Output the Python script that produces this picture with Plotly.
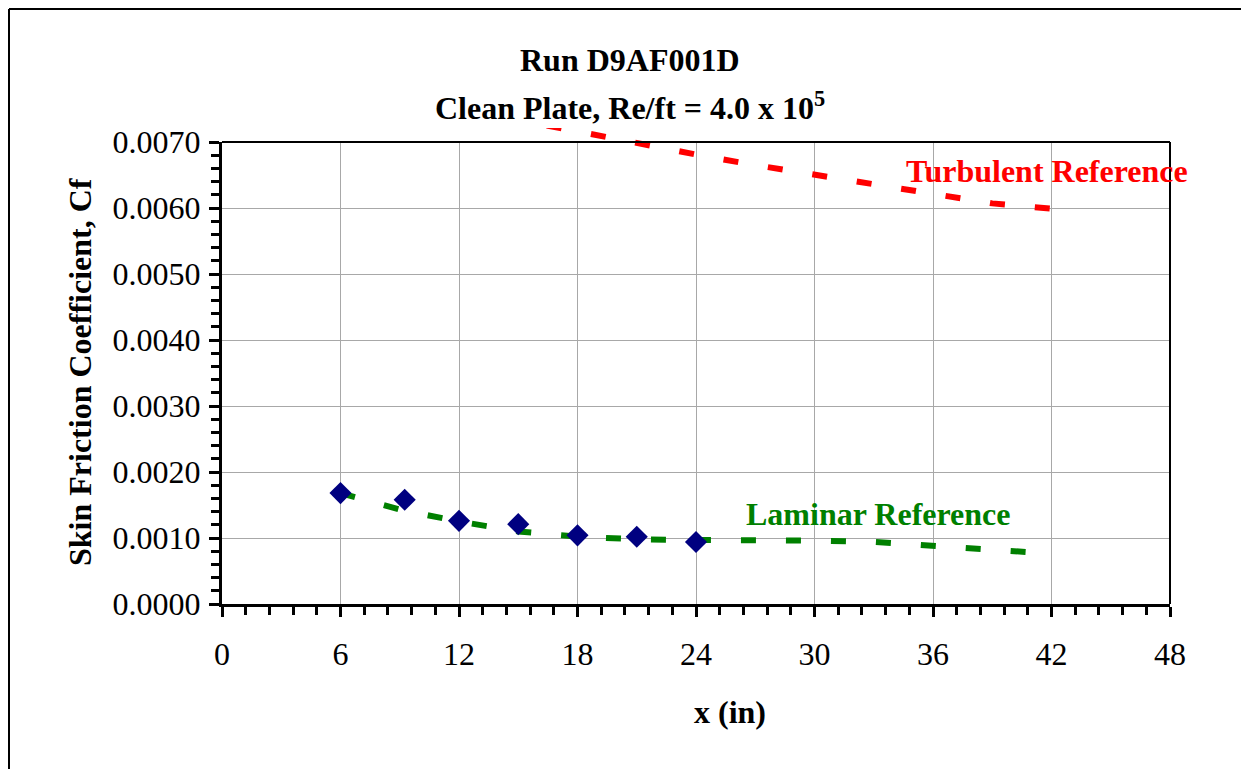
import plotly.graph_objects as go

# ---- data ----
x_meas = [6, 9.25, 12, 15, 18, 21, 24]
cf_meas = [0.00168, 0.00158, 0.00126, 0.00121, 0.00104, 0.00102, 0.00094]

x_lam = [6, 9, 12, 15, 18, 21, 24, 27, 30, 33, 36, 39, 41.7]
cf_lam = [0.00168, 0.00143, 0.00125, 0.00110, 0.00102, 0.00098, 0.00097,
          0.000975, 0.00096, 0.00094, 0.00089, 0.00082, 0.00077]

x_turb = [12, 15, 18, 21, 24, 27, 30, 33, 36, 39, 42]
cf_turb = [0.00755, 0.00733, 0.00716, 0.00698, 0.00681, 0.00665, 0.00650,
           0.00635, 0.00620, 0.00607, 0.00599]

x_ticks = [0, 6, 12, 18, 24, 30, 36, 42, 48]
y_ticks = [0.0, 0.001, 0.002, 0.003, 0.004, 0.005, 0.006, 0.007]
y_ticklabels = ["0.0000", "0.0010", "0.0020", "0.0030", "0.0040", "0.0050", "0.0060", "0.0070"]

# ---- geometry (target pixels in the 1249x770 page; page body has an 8px margin) ----
OFF = 8
W, H = 1249 - OFF, 770 - OFF
L, R = 222 - OFF, 1170 - OFF       # plot area left/right
B, T_AX = 604 - OFF, 142 - OFF     # axis bottom / axis top (0.0070)
T_CLIP = 128 - OFF                 # clip for the turbulent curve (title box bottom)
PW, PH = R - L, B - T_CLIP
YMAX = 0.007
dom_top = (B - T_AX) / PH

def px(xp):
    return (xp - OFF - L) / PW

def py(yp):
    return (B - (yp - OFF)) / PH

FONT = "Liberation Serif"
FS = 32

fig = go.Figure()

fig.add_trace(go.Scatter(
    x=x_lam, y=cf_lam, mode="lines", name="Laminar Reference",
    line=dict(color="#008000", width=6, dash="15px,30px"),
    xaxis="x", yaxis="y", showlegend=False))

fig.add_trace(go.Scatter(
    x=x_meas, y=cf_meas, mode="markers", name="Run D9AF001D",
    marker=dict(symbol="diamond", color="#000080", size=17, line=dict(width=0)),
    xaxis="x", yaxis="y", showlegend=False))

fig.add_trace(go.Scatter(
    x=x_turb, y=cf_turb, mode="lines", name="Turbulent Reference",
    line=dict(color="#ff0000", width=6, dash="15px,30px"),
    xaxis="x2", yaxis="y2", showlegend=False))

axis_common = dict(
    showline=True, linecolor="black", linewidth=3,
    ticks="outside", ticklen=10, tickwidth=3, tickcolor="black",
    showgrid=True, gridcolor="#a8a8a8", gridwidth=1,
    zeroline=False,
    tickfont=dict(family=FONT, size=FS, color="black"),
)

fig.update_layout(
    width=W, height=H,
    margin=dict(l=L, r=W - R, t=T_CLIP, b=H - B, autoexpand=False),
    paper_bgcolor="white", plot_bgcolor="rgba(0,0,0,0)",
    xaxis=dict(
        range=[0, 48], domain=[0, 1], anchor="y",
        tickvals=x_ticks, ticktext=[str(v) for v in x_ticks],
        minor=dict(dtick=1.2, tick0=0, ticks="outside", ticklen=8, tickwidth=3,
                   tickcolor="black", showgrid=False),
        ticklabelstandoff=10,
        **axis_common),
    yaxis=dict(
        range=[0, YMAX], domain=[0, dom_top], anchor="x",
        tickvals=y_ticks, ticktext=y_ticklabels,
        minor=dict(dtick=0.0002, tick0=0, ticks="outside", ticklen=8, tickwidth=3,
                   tickcolor="black", showgrid=False),
        ticklabelstandoff=2,
        **axis_common),
    xaxis2=dict(range=[0, 48], domain=[0, 1], anchor="y2", visible=False),
    yaxis2=dict(range=[0, YMAX / dom_top], domain=[0, 1], anchor="x2", visible=False),
)

# plot area top/right border
fig.add_shape(type="line", xref="paper", yref="paper", x0=0, x1=1, y0=dom_top, y1=dom_top,
              line=dict(color="black", width=2))
fig.add_shape(type="line", xref="paper", yref="paper", x0=1, x1=1, y0=0, y1=dom_top,
              line=dict(color="black", width=2))
# chart area border (only left & top edges are inside the crop), kept inside the figure
fig.add_shape(type="line", xref="paper", yref="paper",
              x0=px(9), x1=px(9), y0=py(9), y1=py(769),
              line=dict(color="black", width=2))
fig.add_shape(type="line", xref="paper", yref="paper",
              x0=px(9), x1=px(1248), y0=py(9), y1=py(9),
              line=dict(color="black", width=2))

def label(text, x, y, xref="paper", yref="paper", color="black", angle=0):
    return dict(text=text, x=x, y=y, xref=xref, yref=yref, showarrow=False,
                xanchor="center", yanchor="middle", textangle=angle,
                font=dict(family=FONT, size=FS, color=color))

ann = [
    label("<b>Run D9AF001D</b>", px(630), py(60)),
    label("<b>Clean Plate, Re/ft = 4.0 x 10<sup>5</sup></b>", px(630), py(106)),
    label("<b>x (in)</b>", px(730), py(712)),
    label("<b>Skin Friction Coefficient, Cf</b>", px(80), py(372), angle=-90),
    label("<b>Turbulent Reference</b>", 41.76, 0.00656, "x", "y", "#ff0000"),
    label("<b>Laminar Reference</b>", 33.25, 0.001364, "x", "y", "#008000"),
]
fig.update_layout(annotations=ann)

fig.write_html("out.html")
